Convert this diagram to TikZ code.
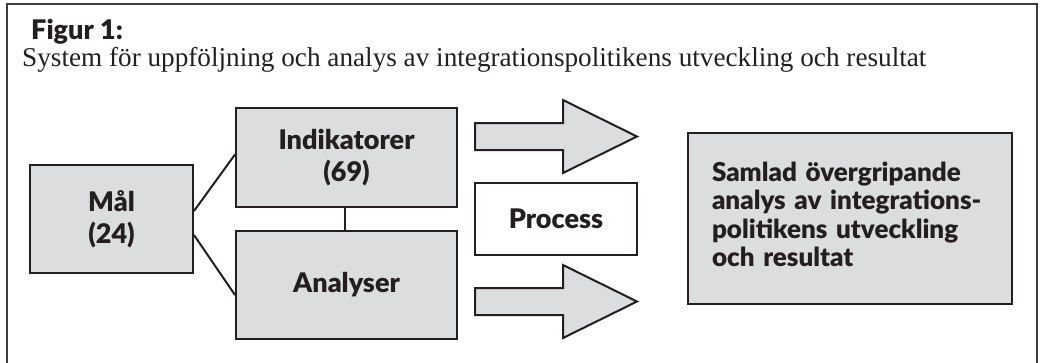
\documentclass[tikz,border=0pt]{standalone}
\usepackage{fontspec}
\setmainfont{Liberation Serif}
\newfontfamily\gillfont{Lato}[BoldFont={Lato Black}]
\usetikzlibrary{positioning}
\definecolor{FigGray}{RGB}{220,221,223}
\definecolor{FigDark}{RGB}{35,31,32}
\definecolor{FigFrame}{RGB}{60,60,60}

\begin{document}
\begin{tikzpicture}[
    x=1pt, y=-1pt,
    every node/.style={inner sep=0pt, text=FigDark},
    box/.style={rectangle, draw=FigDark, line width=2pt, fill=FigGray,
                align=center, font=\gillfont\bfseries\fontsize{27}{32}\selectfont},
    procbox/.style={box, fill=white},
    resbox/.style={box, align=left, text width=276pt,
                   font=\gillfont\bfseries\fontsize{26}{28.5}\selectfont},
    link/.style={draw=FigDark, line width=2pt},
    bigarrow/.style={draw=FigDark, line width=2pt, fill=FigGray, line join=miter},
    frame/.style={draw=FigFrame, line width=1.5pt}
]
\useasboundingbox (0,0) rectangle (1042,362);

% --- Frame and caption ---------------------------------------------------
\draw[frame] (7,370) -- (7,4) -- (1037,4) -- (1037,370);
\node[anchor=base west, font=\gillfont\bfseries\fontsize{27}{30}\selectfont]
      (figlabel) at (31,39) {Figur 1:};
\node[anchor=base west, font=\fontsize{27.2}{30}\selectfont]
      (figtitle) at (22,66) {System för uppföljning och analys av integrationspolitikens utveckling och resultat};

% --- Boxes ---------------------------------------------------------------
\node[box, minimum width=163pt, minimum height=108pt] (mal) at (111.5,219) {Mål\\(24)};
\node[box, minimum width=221pt, minimum height=99pt]  (ind) at (346.5,157.5) {Indikatorer\\(69)};
\node[box, minimum width=221pt, minimum height=108pt] (ana) at (346.5,285) {Analyser};
\node[procbox, minimum width=162pt, minimum height=72pt] (proc) at (556,219) {Process};
\node[resbox, minimum width=324pt, minimum height=171pt] (res) at (850,218.5)
      {Samlad övergripande\\analys av integrations-\\politikens utveckling\\och resultat\strut};

% --- Connectors ----------------------------------------------------------
\draw[link] ([yshift=8pt]mal.east)   -- ([yshift=3pt]ind.west);
\draw[link] ([yshift=-16pt]mal.east) -- ([yshift=-10pt]ana.west);
\draw[link] ([xshift=-2pt]ind.south) -- ([xshift=-2pt]ana.north);

% --- Block arrows --------------------------------------------------------
\coordinate (arrup)   at (475,136.5);
\coordinate (arrdown) at (475,301.5);
\foreach \a in {arrup, arrdown}
  \draw[bigarrow] (\a) ++(0,-13.5) -- ++(88,0) -- ++(0,-23) -- ++(74,36.5)
                  -- ++(-74,36.5) -- ++(0,-23) -- ++(-88,0) -- cycle;

\end{tikzpicture}
\end{document}
